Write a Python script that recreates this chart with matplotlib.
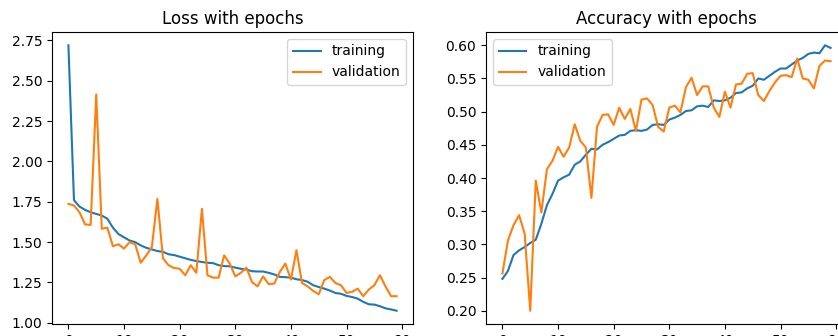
import numpy as np
from matplotlib import pyplot as plt

epochs = np.arange(60)

train_loss = [2.72, 1.76, 1.72, 1.70, 1.685, 1.675, 1.665, 1.645, 1.59, 1.55,
              1.53, 1.51, 1.50, 1.48, 1.465, 1.455, 1.445, 1.44, 1.425, 1.42,
              1.41, 1.40, 1.39, 1.383, 1.377, 1.372, 1.37, 1.357, 1.352, 1.35,
              1.342, 1.335, 1.33, 1.32, 1.318, 1.318, 1.31, 1.30, 1.285, 1.283,
              1.28, 1.27, 1.265, 1.255, 1.233, 1.222, 1.212, 1.20, 1.185, 1.18,
              1.167, 1.16, 1.15, 1.13, 1.115, 1.113, 1.103, 1.09, 1.083, 1.075]
val_loss = [1.737, 1.727, 1.685, 1.61, 1.607, 2.416, 1.583, 1.59, 1.475, 1.487,
            1.46, 1.50, 1.487, 1.372, 1.418, 1.47, 1.768, 1.40, 1.357, 1.34,
            1.335, 1.295, 1.357, 1.31, 1.706, 1.295, 1.28, 1.28, 1.418, 1.367,
            1.288, 1.31, 1.342, 1.253, 1.226, 1.288, 1.24, 1.243, 1.315, 1.367,
            1.268, 1.45, 1.247, 1.226, 1.198, 1.177, 1.265, 1.285, 1.247, 1.233,
            1.185, 1.192, 1.212, 1.165, 1.206, 1.233, 1.295, 1.226, 1.165, 1.165]

train_acc = [0.248, 0.26, 0.284, 0.291, 0.296, 0.302, 0.307, 0.331, 0.359, 0.376,
             0.396, 0.401, 0.405, 0.42, 0.425, 0.435, 0.444, 0.443, 0.45, 0.454,
             0.459, 0.464, 0.465, 0.471, 0.472, 0.471, 0.473, 0.48, 0.481, 0.48,
             0.488, 0.491, 0.495, 0.501, 0.502, 0.508, 0.509, 0.507, 0.517, 0.516,
             0.517, 0.521, 0.528, 0.529, 0.535, 0.539, 0.55, 0.548, 0.554, 0.56,
             0.565, 0.565, 0.571, 0.577, 0.581, 0.587, 0.589, 0.588, 0.600, 0.596]
val_acc = [0.256, 0.306, 0.329, 0.344, 0.316, 0.20, 0.396, 0.348, 0.413, 0.426,
           0.447, 0.432, 0.446, 0.481, 0.456, 0.446, 0.37, 0.477, 0.495, 0.496,
           0.48, 0.506, 0.489, 0.504, 0.471, 0.518, 0.52, 0.51, 0.477, 0.47,
           0.506, 0.509, 0.499, 0.537, 0.551, 0.525, 0.538, 0.538, 0.506, 0.492,
           0.53, 0.506, 0.541, 0.542, 0.557, 0.558, 0.525, 0.516, 0.531, 0.544,
           0.554, 0.555, 0.552, 0.58, 0.55, 0.548, 0.535, 0.569, 0.577, 0.576]

fig = plt.figure(figsize=(8.38, 3.36), dpi=100)
ax1 = fig.add_axes([52 / 838, 12 / 336, 361 / 838, 292 / 336])
ax2 = fig.add_axes([486 / 838, 12 / 336, 361 / 838, 292 / 336])

ax1.plot(epochs, train_loss, label='training')
ax1.plot(epochs, val_loss, label='validation')
ax1.set_title('Loss with epochs')
ax1.legend(loc='upper right')

ax2.plot(epochs, train_acc, label='training')
ax2.plot(epochs, val_acc, label='validation')
ax2.set_title('Accuracy with epochs')
ax2.legend(loc='upper left')

fig.savefig('out.png', dpi=100)
